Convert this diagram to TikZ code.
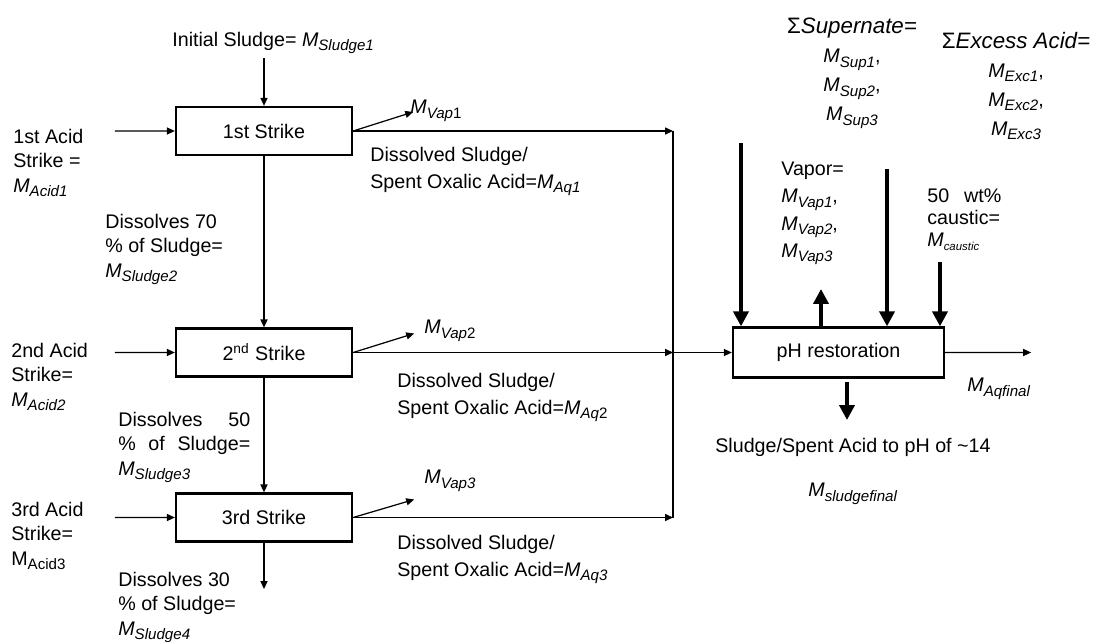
\documentclass[tikz,border=0pt]{standalone}
\usepackage{fontspec}
\setmainfont{Liberation Sans}
\usetikzlibrary{arrows.meta,positioning}
\newcommand{\sbs}[1]{\raisebox{-0.4ex}{\fontsize{8.6}{8.6}\selectfont #1}}
\newcommand{\msub}[1]{\textit{M\sbs{#1}}}
\newcommand{\sumhead}[1]{{\fontsize{12.7}{16.5}\selectfont Σ\textit{#1}}}

\begin{document}
\begin{tikzpicture}[scale=0.2,
    every node/.append style={inner sep=0pt, font=\fontsize{11.2}{13.8}\selectfont},
    lbl/.style={anchor=north west, align=left},
    wide/.style={font=\fontsize{11.2}{15.4}\selectfont},
    tank/.style={draw, line width=1.3pt, minimum width=3.52cm, minimum height=0.96cm},
    flow/.style={line width=0.7pt, -{Triangle[length=4.5pt,width=4pt]}},
    thick flow/.style={line width=2.6pt, -{Triangle[length=8.5pt,width=8.5pt]}}]
        \useasboundingbox (0,0) rectangle (109.3,-64.1);
        \node [tank] (s1) at (26.4,-13.1) {1st Strike};
        \node [tank] (s2) at (26.4,-35.25) {2\textsuperscript{nd} Strike};
        \node [tank] (s3) at (26.4,-51.75) {3rd Strike};
        \node [tank, minimum width=4.22cm, minimum height=1.0cm] (ph) at (83.85,-35.25) {pH restoration};
        \coordinate (col) at (67.3,0);
        \coordinate (feed) at (26.4,-5.8);
        \coordinate (drain) at (26.4,-58.9);
        \coordinate[left=1.2cm of s1.west] (a1);
        \coordinate[left=1.2cm of s2.west] (a2);
        \coordinate[left=1.2cm of s3.west] (a3);
        \coordinate[above right=0.38cm and 1.2cm of s1.east] (v1);
        \coordinate[above right=0.38cm and 1.22cm of s2.east] (v2);
        \coordinate[above right=0.36cm and 1.22cm of s3.east] (v3);
        \coordinate[right=1.72cm of ph.east] (out);
        \coordinate (sup) at (74.1,-14.3);
        \coordinate (vap) at (82.1,-28.9);
        \coordinate (exc) at (88.7,-16.9);
        \coordinate (caus) at (94.0,-26.2);
        \coordinate (sl1) at (84.7,-38.2);
        \coordinate (sl2) at (84.7,-42.0);
        \draw [flow] (feed) -- (s1.north);
        \draw [flow] (s1.south) -- (s2.north);
        \draw [flow] (s2.south) -- (s3.north);
        \draw [flow] (s3.south) -- (drain);
        \draw [flow] (a1) -- (s1.west);
        \draw [flow] (a2) -- (s2.west);
        \draw [flow] (a3) -- (s3.west);
        \draw [flow] (s1.east) -- (v1);
        \draw [flow] (s2.east) -- (v2);
        \draw [flow] (s3.east) -- (v3);
        \draw [flow] (s1.east) -- (s1.east -| col);
        \draw [flow] (s2.east) -- (s2.east -| col);
        \draw [flow] (s3.east) -- (s3.east -| col);
        \draw [line width=0.7pt] (s1.east -| col) -- (s3.east -| col);
        \draw [flow] (s2.east -| col) -- (ph.west);
        \draw [flow] (ph.east) -- (out);
        \draw [thick flow] (sup) -- (sup |- ph.north);
        \draw [thick flow] (vap |- ph.north) -- (vap);
        \draw [thick flow] (exc) -- (exc |- ph.north);
        \draw [thick flow] (caus) -- (caus |- ph.north);
        \draw [thick flow] (sl1) -- (sl2);
        \node [lbl] (init) at (17.2,-3.2) {Initial Sludge= \msub{Sludge1}};
        \node [lbl] (acid1) at (1.3,-12.9) {1st Acid\\Strike =\\\msub{Acid1}};
        \node [lbl] (acid2) at (1.1,-34.3) {2nd Acid\\Strike=\\\msub{Acid2}};
        \node [lbl] (acid3) at (1.1,-50.2) {3rd Acid\\Strike=\\M\sbs{Acid3}};
        \node [lbl] (dis1) at (10.5,-21.4) {Dissolves 70\\\% of Sludge=\\\msub{Sludge2}};
        \node [lbl] (dis2) at (11.8,-41.2) {\makebox[2.64cm][s]{Dissolves 50}\\\makebox[2.64cm][s]{\% of Sludge=}\\\msub{Sludge3}};
        \node [lbl] (dis3) at (11.8,-57.2) {Dissolves 30\\\% of Sludge=\\\msub{Sludge4}};
        \node [lbl] (vap1) at (41.0,-10.0) {\textit{M}\sbs{\textit{Vap}1}};
        \node [lbl] (vap2) at (42.4,-32.0) {\textit{M}\sbs{\textit{Vap}2}};
        \node [lbl] (vap3) at (42.4,-47.0) {\msub{Vap3}};
        \node [lbl, wide] (aq1) at (37.0,-14.7) {Dissolved Sludge/\\Spent Oxalic Acid=\msub{Aq1}};
        \node [lbl, wide] (aq2) at (39.7,-37.3) {Dissolved Sludge/\\Spent Oxalic Acid=\textit{M}\sbs{\textit{Aq}2}};
        \node [lbl, wide] (aq3) at (39.7,-53.5) {Dissolved Sludge/\\Spent Oxalic Acid=\msub{Aq3}};
        \node [anchor=north, align=center, font=\fontsize{11.2}{16.5}\selectfont] (supn) at (85.2,-1.8) {\sumhead{Supernate=}\\\msub{Sup1},\\\msub{Sup2},\\\msub{Sup3}};
        \node [anchor=north, align=center, font=\fontsize{11.2}{16.5}\selectfont] (excn) at (101.6,-3.2) {\sumhead{Excess Acid=}\\\msub{Exc1},\\\msub{Exc2},\\\msub{Exc3}};
        \node [lbl, wide] (vapn) at (78.1,-16.2) {Vapor=\\\msub{Vap1},\\\msub{Vap2},\\\msub{Vap3}};
        \node [lbl, font=\fontsize{11.2}{12.5}\selectfont] (causn) at (92.7,-18.8) {\makebox[1.48cm][s]{50 wt\%}\\caustic=\\\textit{M\raisebox{-0.4ex}{\fontsize{6.5}{6.5}\selectfont caustic}}};
        \node [lbl] (aqf) at (96.7,-37.8) {\msub{Aqfinal}};
        \node [lbl] (slf) at (71.5,-43.8) {Sludge/Spent Acid to pH of \textasciitilde14};
        \node [lbl] (slm) at (80.8,-48.3) {\msub{sludgefinal}};
\end{tikzpicture}
\end{document}
